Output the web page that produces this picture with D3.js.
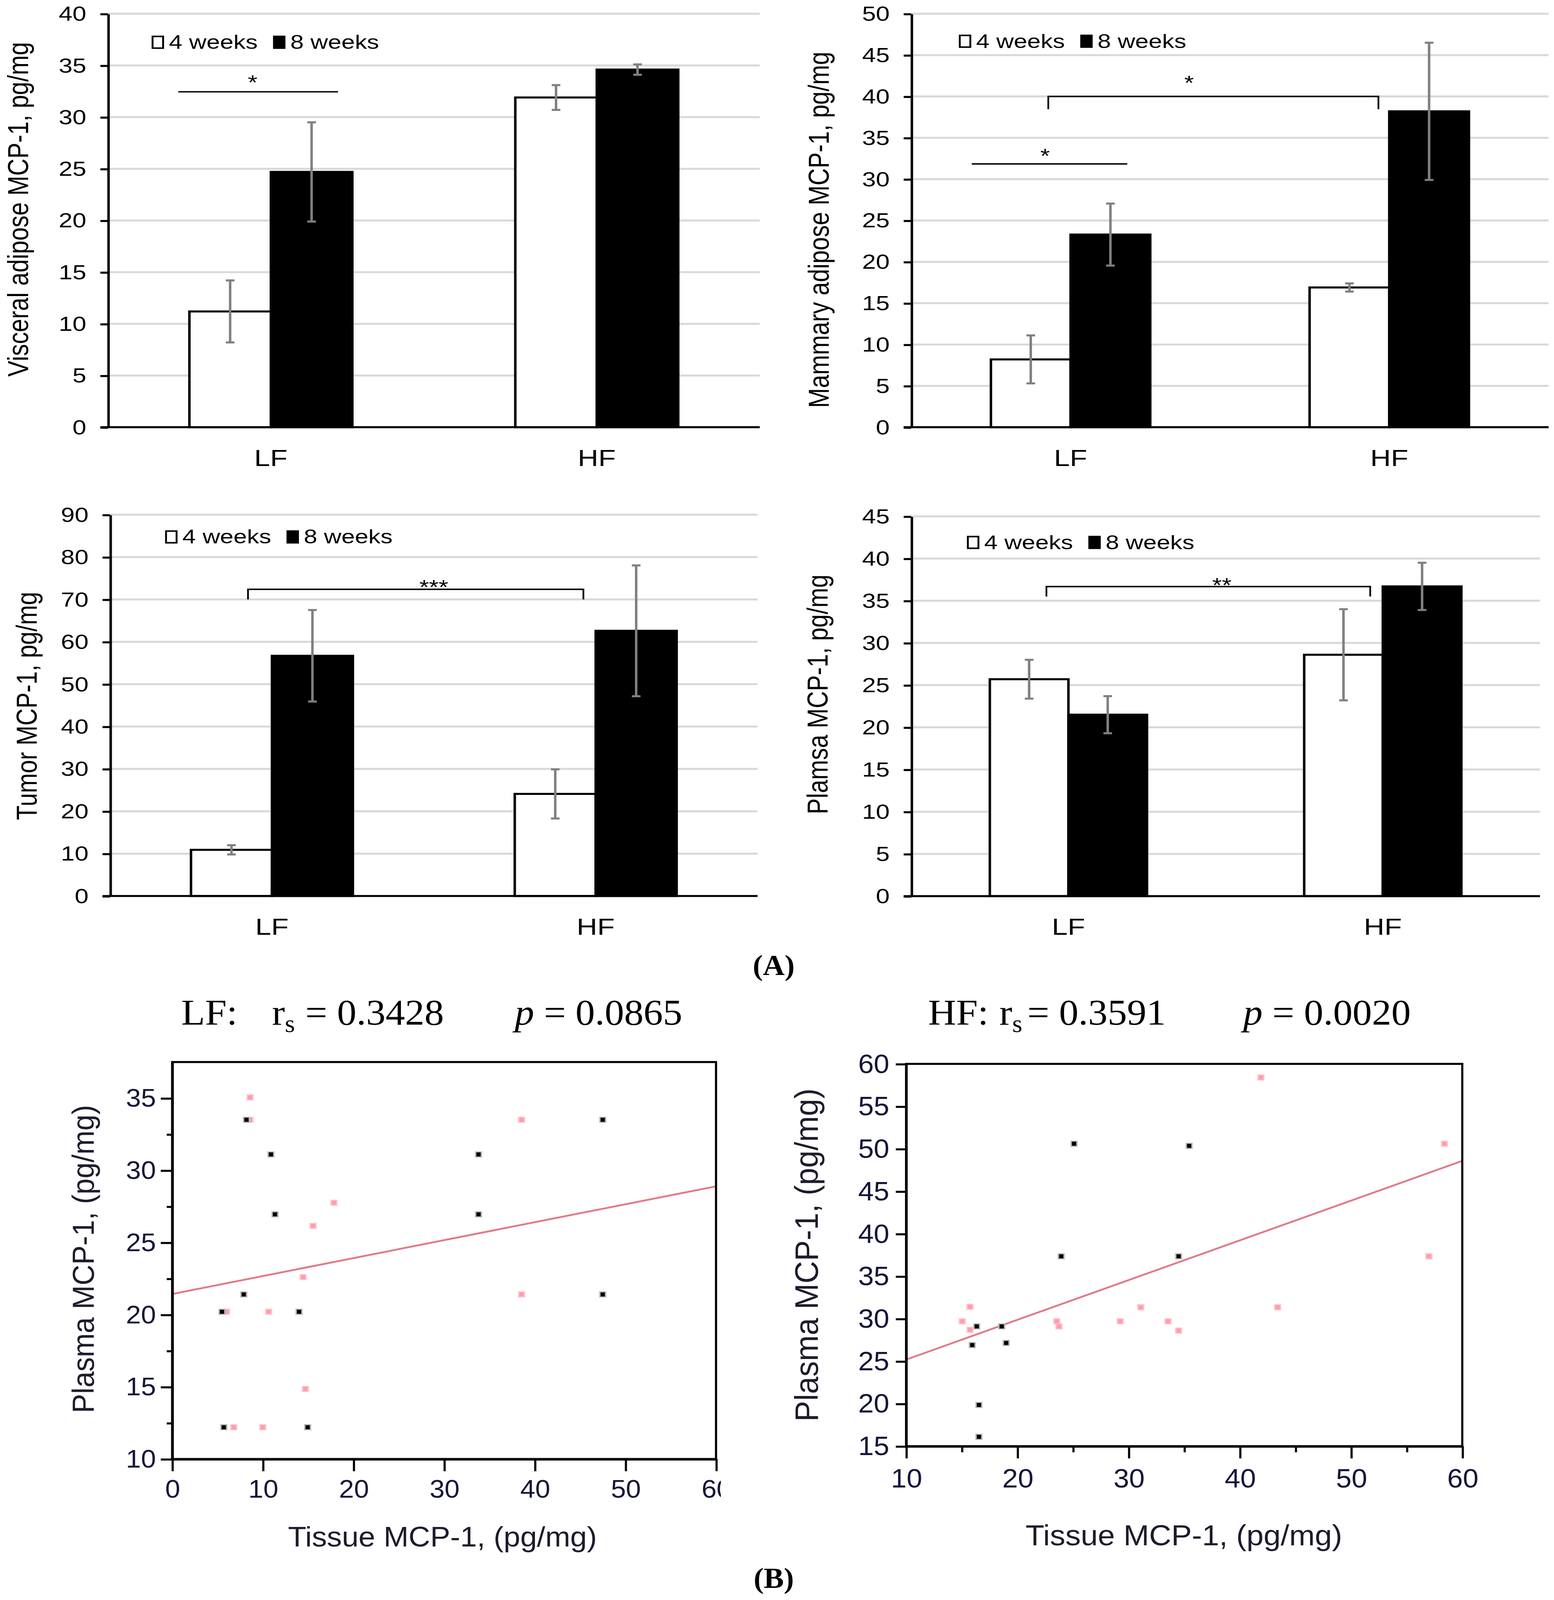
<!DOCTYPE html>
<html>
<head>
<meta charset="utf-8">
<script src="https://cdn.jsdelivr.net/npm/d3@7"></script>
<style>
  html, body { margin: 0; padding: 0; background: #fff; width: 100%; height: 100%; overflow: hidden; }
  svg { display: block; }
</style>
</head>
<body>
<div id="figure"></div>
<script>
// ---------------------------------------------------------------
// data
// ---------------------------------------------------------------
const groups = ['LF', 'HF']
const periods = ['4 weeks', '8 weeks']

// panel A, values per group [LF, HF]
const visceral4 = [11.2, 31.9], visceralErr4 = [3.0, 1.2]
const visceral8 = [24.7, 34.6], visceralErr8 = [4.8, 0.5]

const mammary4 = [8.2, 16.9], mammaryErr4 = [2.9, 0.5]
const mammary8 = [23.3, 38.2], mammaryErr8 = [3.75, 8.3]

const tumor4 = [10.9, 24.1], tumorErr4 = [1.1, 5.8]
const tumor8 = [56.7, 62.6], tumorErr8 = [10.8, 15.45]

const plasma4 = [25.7, 28.6], plasmaErr4 = [2.3, 5.4]
const plasma8 = [21.5, 36.7], plasmaErr8 = [2.2, 2.8]

// panel B, [tissue, plasma] pairs
const lfBlack = [[5.7, 12.2], [5.5, 20.2], [8.2, 33.5], [10.9, 31.1], [11.35, 26.95], [7.9, 21.4],
  [14.0, 20.2], [14.95, 12.2], [33.8, 31.1], [33.8, 26.95], [47.5, 33.5], [47.5, 21.4]]
const lfPink = [[8.6, 35.05], [8.6, 33.5], [17.85, 27.75], [15.55, 26.15], [14.45, 22.6], [6.0, 20.2],
  [10.65, 20.2], [14.7, 14.85], [6.8, 12.2], [10.0, 12.2], [38.55, 33.5], [38.55, 21.4]]
const lfFit = [[0, 21.43], [60, 28.89]]

const hfBlack = [[25.1, 50.6], [35.45, 50.35], [23.95, 37.35], [34.5, 37.35], [16.35, 29.1], [18.6, 29.1],
  [15.95, 26.9], [19.0, 27.15], [16.55, 19.85], [16.55, 16.1]]
const hfPink = [[41.9, 58.4], [58.4, 50.6], [57.0, 37.35], [43.4, 31.35], [31.1, 31.35], [15.75, 31.4],
  [15.05, 29.7], [15.75, 28.7], [23.55, 29.7], [23.75, 29.1], [29.25, 29.7], [33.55, 29.7], [34.5, 28.6]]
const hfFit = [[10, 25.19], [60, 48.58]]

const lfStats = ['0.3428', '0.0865']
const hfStats = ['0.3591', '0.0020']

// ---------------------------------------------------------------
// layout
// ---------------------------------------------------------------
const W = window.innerWidth || 3977
  , H = window.innerHeight || 4338
  , VW = 1440
  , VH = VW * 4338 / 3977
const SX = 1.15   // panel A text is stretched horizontally in the source
const sans = "'Liberation Sans', Arial, Helvetica, sans-serif"
const serif = "'Liberation Serif', 'Times New Roman', Times, serif"

const svg = d3.select('#figure').append('svg')
  .attr('width', W)
  .attr('height', H)
  .attr('viewBox', '0 0 ' + VW + ' ' + VH)
  .attr('preserveAspectRatio', 'none')

svg.append('rect').attr('width', VW).attr('height', VH).attr('fill', '#fff')

/**
 * grouped bar chart with error bars
 */
function barPanel(cfg, v4, v8, e4, e8) {

  const left = cfg.left / SX
    , right = cfg.right / SX
    , g = svg.append('g').attr('transform', 'scale(' + SX + ',1)')
    , y = d3.scaleLinear().domain([0, cfg.yMax]).range([cfg.bottom, cfg.top])
    , x0 = d3.scaleBand().domain(groups).range([left, right])
    , x1 = d3.scaleBand().domain(periods).range([0, x0.bandwidth()]).paddingOuter(1)
    , ticks = d3.range(0, cfg.yMax + 1e-9, cfg.yStep)
    , frac = d3.scaleLinear().domain([0, 1]).range([left, right])
    , tick = 7 / SX

  // gridlines
  g.append('g').selectAll('line')
    .data(ticks.slice(1))
    .join('line')
      .attr('x1', left).attr('x2', right)
      .attr('y1', d => y(d)).attr('y2', d => y(d))
      .attr('stroke', '#d9d9d9')
      .attr('stroke-width', 2)

  const rows = groups.flatMap((grp, i) => [
    { grp: grp, per: periods[0], v: v4[i], e: e4[i] },
    { grp: grp, per: periods[1], v: v8[i], e: e8[i] }
  ])

  g.append('g').selectAll('rect')
    .data(rows)
    .join('rect')
      .attr('x', d => x0(d.grp) + x1(d.per))
      .attr('y', d => y(d.v))
      .attr('width', x1.bandwidth())
      .attr('height', d => y(0) - y(d.v))
      .attr('fill', d => d.per === periods[0] ? '#fff' : '#000')
      .attr('stroke', '#000')
      .attr('stroke-width', 2)

  // error bars
  const eb = g.append('g').attr('stroke', '#808080').attr('stroke-width', 2).attr('fill', 'none')
  const cx = d => x0(d.grp) + x1(d.per) + x1.bandwidth() / 2
  eb.selectAll('path')
    .data(rows)
    .join('path')
      .attr('d', d => {
        const c = cx(d), t = y(d.v + d.e), b = y(d.v - d.e), w = 4 / SX
        return 'M' + c + ',' + t + 'V' + b + 'M' + (c - w) + ',' + t + 'H' + (c + w) + 'M' + (c - w) + ',' + b + 'H' + (c + w)
      })

  // y axis
  const ax = g.append('g')
    .attr('transform', 'translate(' + left + ',0)')
    .call(d3.axisLeft(y).tickValues(ticks).tickSize(tick).tickSizeOuter(0).tickPadding(13 / SX))
  ax.select('.domain').attr('stroke', '#000').attr('stroke-width', 2)
  ax.selectAll('.tick line').attr('stroke', '#000').attr('stroke-width', 2)
  ax.selectAll('.tick text')
    .attr('fill', '#000')
    .style('font-family', sans)
    .style('font-size', '20px')

  // baseline
  g.append('line')
    .attr('x1', left - tick).attr('x2', right)
    .attr('y1', y(0)).attr('y2', y(0))
    .attr('stroke', '#000').attr('stroke-width', 2)

  // category labels
  g.append('g').selectAll('text')
    .data(groups)
    .join('text')
      .attr('x', d => x0(d) + x0.bandwidth() / 2)
      .attr('y', cfg.bottom + 38)
      .attr('text-anchor', 'middle')
      .style('font-family', sans)
      .style('font-size', '23px')
      .text(d => d)

  // y title
  g.append('text')
    .attr('transform', 'translate(' + (cfg.titleX / SX) + ',' + cfg.titleY + ') rotate(-90)')
    .attr('text-anchor', 'middle')
    .style('font-family', sans)
    .style('font-size', '23.4px')
    .text(cfg.title)

  // legend
  const lg = g.append('g').attr('transform', 'translate(' + (cfg.legX / SX) + ',' + cfg.legY + ')')
  periods.forEach((p, i) => {
    const ox = i * 112.5 / SX
    lg.append('rect')
      .attr('x', ox + 0.75).attr('y', 0.75)
      .attr('width', 11.5 / SX - 1.5).attr('height', 11.5)
      .attr('fill', i === 0 ? '#fff' : '#000')
      .attr('stroke', '#000').attr('stroke-width', 1.5)
    lg.append('text')
      .attr('x', ox + 16 / SX).attr('y', 13)
      .style('font-family', sans)
      .style('font-size', '19.5px')
      .text(p)
  })

  // significance marks
  const sig = g.append('g').attr('stroke', '#000').attr('stroke-width', 1.4).attr('fill', 'none')
  cfg.marks.forEach(m => {
    let d = 'M' + frac(m.x0) + ',' + y(m.y) + 'H' + frac(m.x1)
    if (m.drop !== undefined)
      d = 'M' + frac(m.x0) + ',' + y(m.drop) + 'V' + y(m.y) + 'H' + frac(m.x1) + 'V' + y(m.drop)
    sig.append('path').attr('d', d)
    g.append('text')
      .attr('x', frac(m.sx))
      .attr('y', y(m.sy) + 11.5)
      .attr('text-anchor', 'middle')
      .style('font-family', sans)
      .style('font-size', '20px')
      .text(m.star)
  })
}

barPanel({ left: 100, right: 704, top: 13.5, bottom: 419.4, yMax: 40, yStep: 5,
  title: 'Visceral adipose MCP-1, pg/mg', titleX: 26, titleY: 205.5, legX: 140.5, legY: 35,
  marks: [{ x0: 0.108, x1: 0.353, y: 32.45, star: '*', sx: 0.222, sy: 33.8 }]
}, visceral4, visceral8, visceralErr4, visceralErr8)

barPanel({ left: 844.4, right: 1435, top: 13.5, bottom: 419.4, yMax: 50, yStep: 5,
  title: 'Mammary adipose MCP-1, pg/mg', titleX: 768, titleY: 225.6, legX: 888.5, legY: 34,
  marks: [
    { x0: 0.095, x1: 0.339, y: 31.84, star: '*', sx: 0.21, sy: 33.36 },
    { x0: 0.215, x1: 0.733, y: 40, drop: 38.46, star: '*', sx: 0.436, sy: 42.2 }
  ]
}, mammary4, mammary8, mammaryErr4, mammaryErr8)

barPanel({ left: 102, right: 702, top: 505.3, bottom: 879.6, yMax: 90, yStep: 10,
  title: 'Tumor MCP-1, pg/mg', titleX: 34, titleY: 693, legX: 153, legY: 520.6,
  marks: [{ x0: 0.213, x1: 0.731, y: 72.4, drop: 70.0, star: '***', sx: 0.5, sy: 74.0 }]
}, tumor4, tumor8, tumorErr4, tumorErr8)

barPanel({ left: 844.4, right: 1427, top: 506.9, bottom: 879.7, yMax: 45, yStep: 5,
  title: 'Plamsa MCP-1, pg/mg', titleX: 767, titleY: 681.7, legX: 896, legY: 526,
  marks: [{ x0: 0.215, x1: 0.730, y: 36.68, drop: 35.5, star: '**', sx: 0.494, sy: 37.4 }]
}, plasma4, plasma8, plasmaErr4, plasmaErr8)

// panel labels
svg.append('text')
  .attr('x', 717).attr('y', 957)
  .attr('text-anchor', 'middle')
  .style('font-family', serif).style('font-weight', 'bold').style('font-size', '28px')
  .text('(A)')

svg.append('text')
  .attr('x', 717).attr('y', 1559)
  .attr('text-anchor', 'middle')
  .style('font-family', serif).style('font-weight', 'bold').style('font-size', '28px')
  .text('(B)')

/**
 * correlation title: "XX: r_s = ...   p = ..."
 */
function statTitle(t, stats) {
  const txt = svg.append('text')
    .attr('y', 1006)
    .style('font-family', serif)
    .style('font-size', '36px')
  txt.append('tspan').attr('x', t.lab).text(t.label)
  txt.append('tspan').attr('x', t.r).text('r')
  txt.append('tspan').attr('dy', 7).style('font-size', '24px').text('s')
  txt.append('tspan').attr('x', t.eq).attr('dy', -7).text('= ' + stats[0])
  txt.append('tspan').attr('x', t.p).style('font-style', 'italic').text('p')
  txt.append('tspan').attr('x', t.peq).text('= ' + stats[1])
}

statTitle({ label: 'LF:', lab: 168, r: 252, eq: 283, p: 477, peq: 504 }, lfStats)
statTitle({ label: 'HF:', lab: 860, r: 926, eq: 952, p: 1152, peq: 1179 }, hfStats)

/**
 * scatter plot with fitted line
 */
function scatterPanel(s) {

  const g = svg.append('g')
    , x = d3.scaleLinear().domain(s.xDomain).range([s.left, s.right])
    , y = d3.scaleLinear().domain(s.yDomain).range([s.bottom, s.top])
    , ink = '#15153a'

  // fitted line
  g.append('line')
    .attr('x1', x(s.fit[0][0])).attr('y1', y(s.fit[0][1]))
    .attr('x2', x(s.fit[1][0])).attr('y2', y(s.fit[1][1]))
    .attr('stroke', '#e07b88').attr('stroke-width', 1.8)

  // points
  function dots(data, halo, core) {
    const dg = g.append('g')
    dg.selectAll('rect.h')
      .data(data)
      .join('rect')
        .attr('class', 'h')
        .attr('x', d => x(d[0]) - 3.3).attr('y', d => y(d[1]) - 3)
        .attr('width', 6.6).attr('height', 6)
        .attr('fill', halo)
    dg.selectAll('rect.c')
      .data(data)
      .join('rect')
        .attr('class', 'c')
        .attr('x', d => x(d[0]) - 2).attr('y', d => y(d[1]) - 2)
        .attr('width', 4).attr('height', 4)
        .attr('fill', core)
  }
  dots(s.pink, '#ffc3cc', '#ff9cad')
  dots(s.black, '#b8b8b8', '#000')

  // frame
  g.append('rect')
    .attr('x', s.left).attr('y', s.top)
    .attr('width', s.right - s.left).attr('height', s.bottom - s.top)
    .attr('fill', 'none').attr('stroke', '#000').attr('stroke-width', 2)

  function style(ax, size) {
    ax.select('.domain').attr('stroke', '#000').attr('stroke-width', 2)
    ax.selectAll('.tick line').attr('stroke', '#000').attr('stroke-width', 2)
    ax.selectAll('.tick text')
      .attr('fill', ink)
      .style('font-family', sans)
      .style('font-size', size + 'px')
  }

  // x axis
  const xa = g.append('g')
    .attr('transform', 'translate(0,' + s.bottom + ')')
    .call(d3.axisBottom(x).tickValues(s.xTicks).tickSize(s.xTick).tickSizeOuter(0).tickPadding(s.xPad))
  style(xa, s.tickFont)
  if (s.xMinor.length)
    style(g.append('g')
      .attr('transform', 'translate(0,' + s.bottom + ')')
      .call(d3.axisBottom(x).tickValues(s.xMinor).tickSize(6).tickSizeOuter(0).tickFormat('')), s.tickFont)
  if (s.clipX) {
    const id = 'clip' + Math.round(s.left)
    svg.append('clipPath').attr('id', id)
      .append('rect').attr('x', 0).attr('y', -2000).attr('width', s.clipX).attr('height', 4000)
    xa.attr('clip-path', 'url(#' + id + ')')
  }

  // y axis
  const ya = g.append('g')
    .attr('transform', 'translate(' + s.left + ',0)')
    .call(d3.axisLeft(y).tickValues(s.yTicks).tickSize(s.yTick).tickSizeOuter(0).tickPadding(s.yPad))
  style(ya, s.tickFont)
  if (s.yMinor.length)
    style(g.append('g')
      .attr('transform', 'translate(' + s.left + ',0)')
      .call(d3.axisLeft(y).tickValues(s.yMinor).tickSize(5).tickSizeOuter(0).tickFormat('')), s.tickFont)

  // axis titles
  g.append('text')
    .attr('x', s.xTitle[0]).attr('y', s.xTitle[1])
    .attr('text-anchor', 'middle')
    .attr('fill', '#1c1c2c')
    .style('font-family', sans)
    .style('font-size', s.xTitle[2] + 'px')
    .text('Tissue MCP-1, (pg/mg)')

  g.append('text')
    .attr('transform', 'translate(' + s.yTitle[0] + ',' + s.yTitle[1] + ') rotate(-90)')
    .attr('text-anchor', 'middle')
    .attr('fill', '#1c1c2c')
    .style('font-family', sans)
    .style('font-size', s.yTitle[2] + 'px')
    .text('Plasma MCP-1, (pg/mg)')
}

scatterPanel({
  left: 159.5, right: 663.5, top: 1042.6, bottom: 1432.3,
  xDomain: [0, 60], yDomain: [10, 37.5],
  xTicks: d3.range(0, 61, 10), xMinor: [], xTick: 12, xPad: 8,
  yTicks: d3.range(10, 36, 5), yMinor: d3.range(12.5, 35, 5), yTick: 10.5, yPad: 4.5,
  tickFont: 25, clipX: 668,
  black: lfBlack, pink: lfPink, fit: lfFit,
  xTitle: [410, 1518, 27.8], yTitle: [87, 1236, 28.2]
})

scatterPanel({
  left: 839.6, right: 1355, top: 1044.4, bottom: 1419.7,
  xDomain: [10, 60], yDomain: [15, 60],
  xTicks: d3.range(10, 61, 10), xMinor: d3.range(15, 60, 10), xTick: 12, xPad: 10,
  yTicks: d3.range(15, 61, 5), yMinor: [], yTick: 9.5, yPad: 6,
  tickFont: 26,
  black: hfBlack, pink: hfPink, fit: hfFit,
  xTitle: [1097, 1517, 28.5], yTitle: [758, 1232, 30.5]
})
</script>
</body>
</html>
